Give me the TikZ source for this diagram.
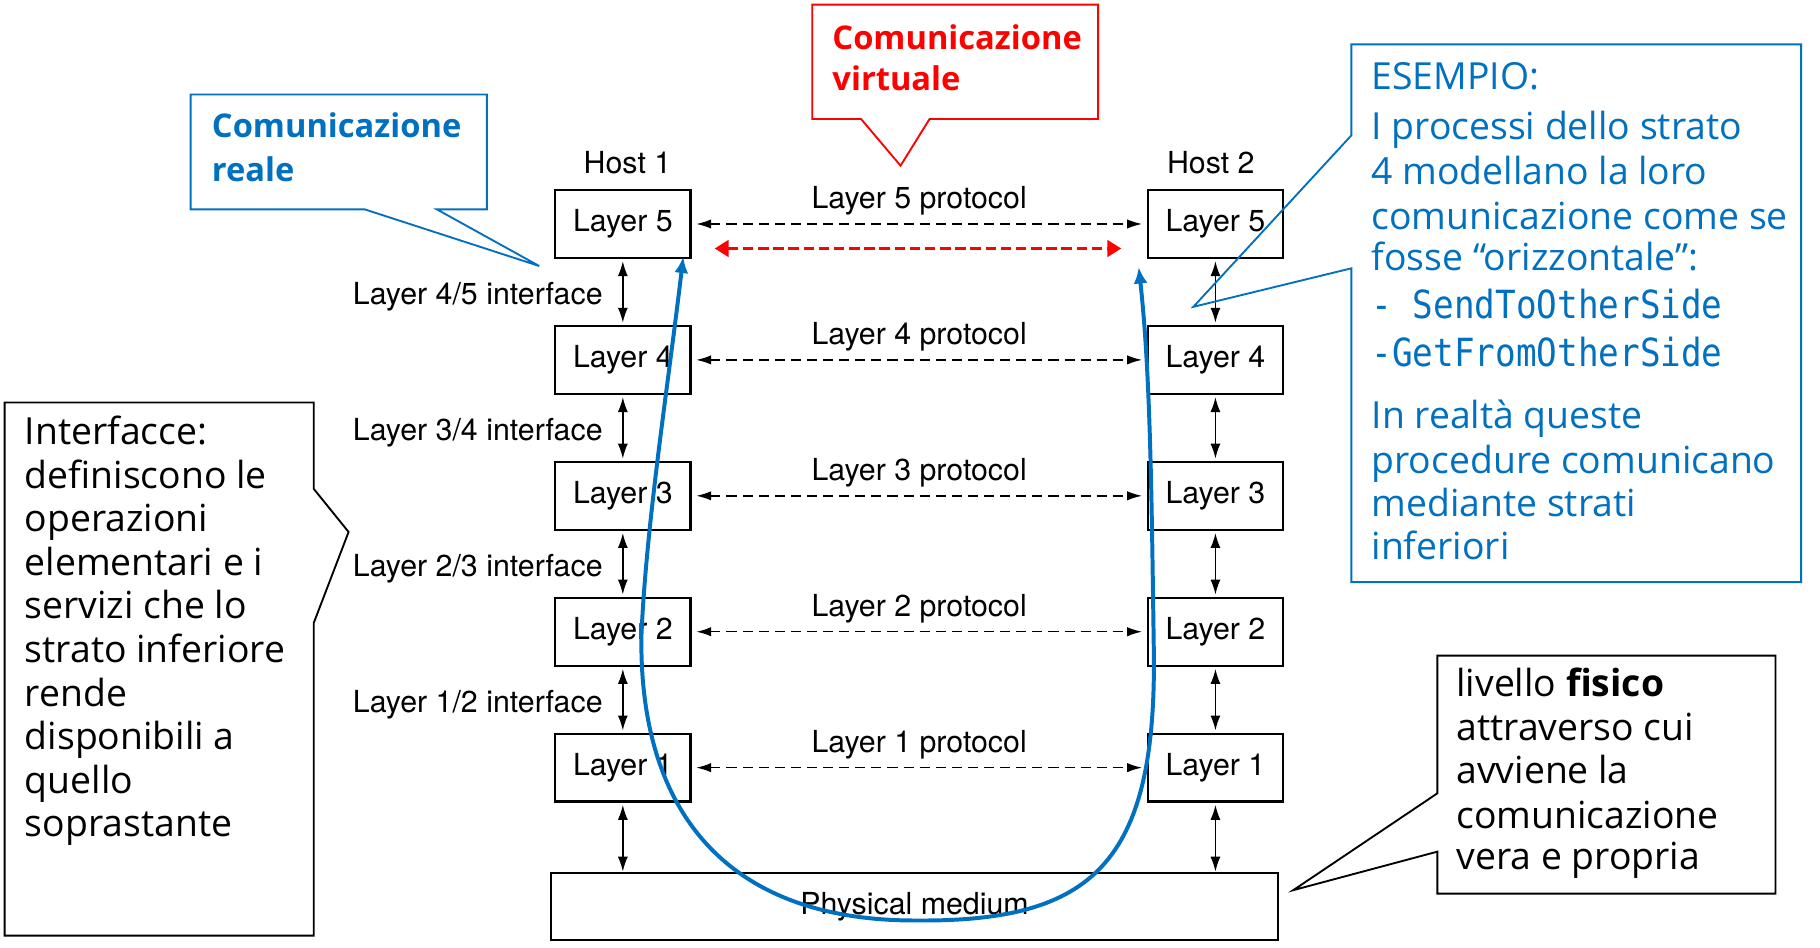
\documentclass[tikz,border=0pt]{standalone}
\usepackage{fontspec}
\usepackage{graphicx}
\setmainfont{TeX Gyre Heros}
\newfontfamily\comicf{Open Sans}
\newfontfamily\monof{DejaVu Sans Mono}
\usetikzlibrary{arrows.meta,calc}
\definecolor{ppblue}{HTML}{0070C0}
\definecolor{ppred}{HTML}{FF0000}
\begin{document}
\begin{tikzpicture}[x=0.498pt,y=-0.5pt,
  layerbox/.style={draw, line width=0.9pt, minimum width=58pt, minimum height=29pt, inner sep=0pt, font=\fontsize{13}{15}\selectfont},
  lbl/.style={inner sep=0pt, font=\fontsize{13}{15}\selectfont},
  proto/.style={line width=0.65pt, dash pattern=on 4.3pt off 2.6pt, {Latex[length=6.4pt,width=4pt]}-{Latex[length=6.4pt,width=4pt]}, shorten <=2pt, shorten >=2pt},
  iface/.style={line width=0.65pt, {Latex[length=6.4pt,width=4.3pt]}-{Latex[length=6.4pt,width=4.3pt]}, shorten <=1pt, shorten >=1pt},
  virt/.style={ppred, line width=1.5pt, dash pattern=on 4.5pt off 2pt, {Triangle[length=6pt,width=7pt]}-{Triangle[length=6pt,width=7pt]}},
  realc/.style={ppblue, line width=1.7pt, {Latex[length=7pt,width=6pt]}-{Latex[length=7pt,width=6pt]}},
  callout/.style={line width=0.8pt},
  ctext/.style={anchor=base west, inner sep=0pt, font=\comicf\fontsize{16}{19}\selectfont},
  cbold/.style={anchor=base west, inner sep=0pt, font=\comicf\bfseries\fontsize{14}{17}\selectfont},
  mtext/.style={anchor=base west, inner sep=0pt, text=ppblue, font=\monof\fontsize{14.7}{17}\selectfont}
]
\fill[white] (0,0) rectangle (1566.3,812);
\useasboundingbox (0,0) rectangle (1566.3,812);

% layer boxes and protocols
\foreach \i/\y in {5/192,4/308.5,3/425,2/541.5,1/658} {
  \node[layerbox] (L\i) at (536,\y) {Layer \i};
  \node[layerbox] (R\i) at (1046,\y) {Layer \i};
  \draw[proto] (L\i.east) -- (R\i.west);
  \node[lbl] (P\i) at ($(L\i.east)!0.5!(R\i.west)+(0,-20)$) {Layer \i{} protocol};
}
% interfaces
\foreach \a/\b in {5/4,4/3,3/2,2/1} {
  \draw[iface] (L\a.south) -- (L\b.north);
  \draw[iface] (R\a.south) -- (R\b.north);
  \node[lbl, anchor=east] (I\b\a) at ($(L\a.south)!0.5!(L\b.north)+(-17,4)$) {Layer \b/\a{} interface};
}
% physical medium
\node[draw, line width=0.9pt, minimum width=311.5pt, minimum height=29pt, inner sep=0pt, font=\fontsize{13}{15}\selectfont] (PM) at (787,777) {Physical medium};
\draw[iface, shorten >=0pt] (L1.south) -- (L1.south |- PM.north);
\draw[iface, shorten >=0pt] (R1.south) -- (R1.south |- PM.north);
% hosts
\node[lbl] (H1) at ($(L5.north)+(4,-23)$) {Host 1};
\node[lbl] (H2) at ($(R5.north)+(-4,-23)$) {Host 2};

% virtual communication arrow
\coordinate (va) at (615,213);
\coordinate (vb) at (965,213);
\draw[virt] (va) -- (vb);

% real communication curve
\coordinate (cs) at (588,220);
\coordinate (ce) at (980,229);
\draw[realc] (cs) .. controls (575,330) and (556,450) .. (552,545)
  .. controls (550,690) and (620,790) .. (790,789)
  .. controls (940,790) and (995,740) .. (993,560)
  .. controls (991,420) and (990,320) .. (ce);

% callout: Comunicazione reale
\draw[ppblue, callout] (164,81) -- (419,81) -- (419,179.5) -- (376,179.5) -- (464,228) -- (314,179.5) -- (164,179.5) -- cycle;
\node[cbold, text=ppblue] (cr1) at (182,117.7) {Comunicazione};
\node[cbold, text=ppblue] (cr2) at (182,155.7) {reale};

% callout: Comunicazione virtuale
\draw[ppred, callout] (699,4) -- (945,4) -- (945,102) -- (800,102) -- (775,142) -- (741,102) -- (699,102) -- cycle;
\node[cbold, text=ppred] (cv1) at (716,42.3) {Comunicazione};
\node[cbold, text=ppred] (cv2) at (716,77.7) {virtuale};

% callout: ESEMPIO
\draw[ppblue, callout] (1163,38) -- (1550,38) -- (1550,499) -- (1163,499) -- (1163,230) -- (1027,263) -- (1163,116) -- cycle;
\node[ctext, text=ppblue] (e1) at (1180,76.6) {ESEMPIO:};
\node[ctext, text=ppblue] (e2) at (1180,120) {I processi dello strato};
\node[ctext, text=ppblue] (e3) at (1180,158) {4 modellano la loro};
\node[ctext, text=ppblue] (e4) at (1180,196.6) {comunicazione come se};
\node[ctext, text=ppblue] (e5) at (1180,232) {fosse “orizzontale”:};
\node[mtext] (e6) at (1180,272.9) {\scalebox{1}[1.13]{- SendToOtherSide}};
\node[mtext] (e7) at (1180,314.3) {\scalebox{1}[1.13]{-GetFromOtherSide}};
\node[ctext, text=ppblue] (e8) at (1180,367.1) {In realtà queste};
\node[ctext, text=ppblue] (e9) at (1180,405.7) {procedure comunicano};
\node[ctext, text=ppblue] (e10) at (1180,442.9) {mediante strati};
\node[ctext, text=ppblue] (e11) at (1180,480) {inferiori};

% callout: Interfacce
\draw[callout] (4,345) -- (270,345) -- (270,419) -- (300,456) -- (270,534) -- (270,802) -- (4,802) -- cycle;
\foreach \t/\yy [count=\k] in {Interfacce:/380.9, definiscono le/418.3, operazioni/455.7, elementari e i/493, servizi che lo/530.4, strato inferiore/567.8, rende/605.2, disponibili a/642.6, quello/680, soprastante/717.4} {
  \node[ctext] (if\k) at (21,\yy) {\t};
}

% callout: livello fisico
\draw[callout] (1237,562) -- (1528,562) -- (1528,766) -- (1237,766) -- (1237,730) -- (1113,763) -- (1237,680) -- cycle;
\node[ctext] (lf1) at (1253,597.2) {livello \textbf{fisico}};
\node[ctext] (lf2) at (1253,634.3) {attraverso cui};
\node[ctext] (lf3) at (1253,671.4) {avviene la};
\node[ctext] (lf4) at (1253,710) {comunicazione};
\node[ctext] (lf5) at (1253,745.7) {vera e propria};
\end{tikzpicture}
\end{document}
